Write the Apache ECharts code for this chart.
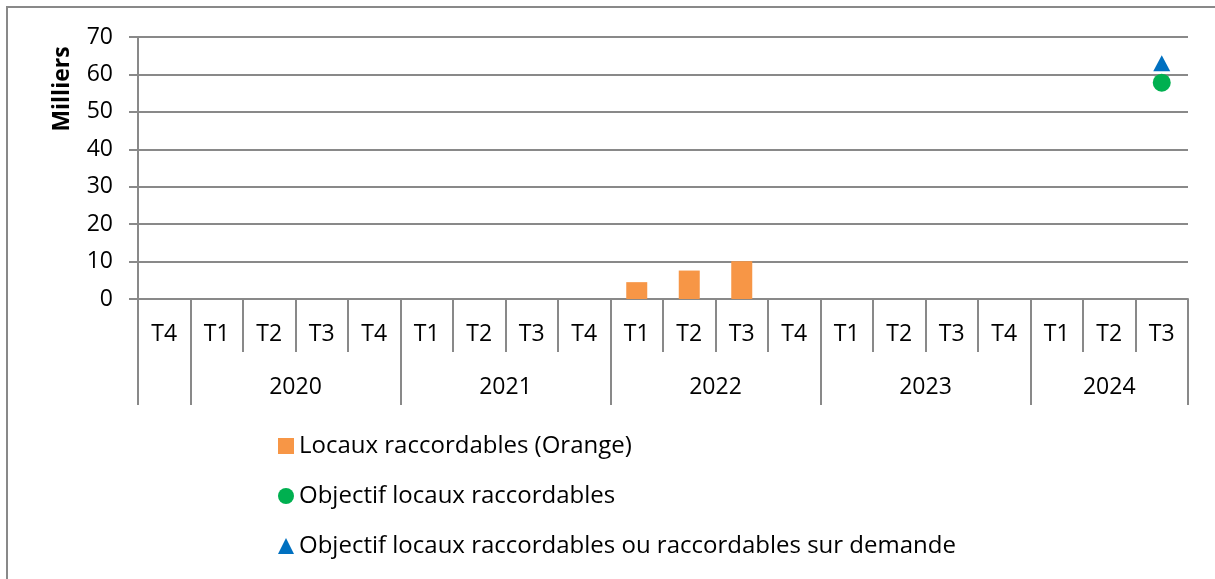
<!DOCTYPE html>
<html>
<head>
<meta charset="utf-8">
<script src="https://cdn.jsdelivr.net/npm/echarts@6/dist/echarts.min.js"></script>
<style>
html,body{margin:0;padding:0;background:#fff;}
#frame{position:absolute;left:6px;top:6px;width:1215px;height:579px;border-left:2px solid #898989;border-top:2px solid #898989;box-sizing:border-box;}
#chart{position:absolute;left:0;top:0;width:1215px;height:579px;}
</style>
</head>
<body>
<div id="frame"></div>
<div id="chart"></div>
<script>
// Data
const quarters = ['T4','T1','T2','T3','T4','T1','T2','T3','T4','T1','T2','T3','T4','T1','T2','T3','T4','T1','T2','T3'];
const years = ['', '2020', '2021', '2022', '2023', '2024'];
const yearSpans = [1, 4, 4, 4, 4, 3];   // number of quarters per year group
const locauxOrange = [null,null,null,null,null,null,null,null,null,4.5,7.6,10.1,null,null,null,null,null,null,null,null];
const objectifRaccordables = [null,null,null,null,null,null,null,null,null,null,null,null,null,null,null,null,null,null,null,57.8];
const objectifSurDemande = [null,null,null,null,null,null,null,null,null,null,null,null,null,null,null,null,null,null,null,63];
const yTicks = {min: 0, max: 70, interval: 10};

// Build year axis helpers
const yearAxisData = new Array(quarters.length).fill('');
const yearShift = new Array(quarters.length).fill(0);
const groupStarts = [];
let pos = 0;
yearSpans.forEach((span, g) => {
  groupStarts.push(pos);
  const mid = pos + Math.floor((span - 1) / 2);
  yearAxisData[mid] = years[g];
  yearShift[mid] = (span % 2 === 0) ? 1 : 0;
  pos += span;
});

const FONT = 'Open Sans';
const FS = 23;
const grey = '#898989';
const chart = echarts.init(document.getElementById('chart'));
chart.setOption({
  animation: false,
  textStyle: {fontFamily: FONT},
  grid: {left: 138, right: 27, top: 37, bottom: 280, containLabel: false},
  graphic: [{
    type: 'text', rotation: Math.PI/2, x: 62, y: 89,
    style: {text: 'Milliers', font: 'bold 23px "' + FONT + '"', fill: '#000', textAlign: 'center', textVerticalAlign: 'middle'}
  }],
  legend: {
    orient: 'vertical', left: 278, top: 434, padding: 0, itemGap: 26, itemWidth: 16, itemHeight: 16,
    textStyle: {fontSize: 24, lineHeight: 24, color: '#000', fontFamily: FONT},
    data: [
      {name: 'Locaux raccordables (Orange)', icon: 'rect'},
      {name: 'Objectif locaux raccordables', icon: 'circle'},
      {name: 'Objectif locaux raccordables ou raccordables sur demande', icon: 'triangle'}
    ]
  },
  xAxis: [{
    type: 'category', data: quarters, boundaryGap: true, position: 'bottom',
    axisLine: {show: true, lineStyle: {color: grey, width: 2}},
    axisTick: {show: true, interval: 0, length: 53, lineStyle: {color: grey, width: 2}},
    axisLabel: {interval: 0, margin: 24, fontSize: FS, color: '#000', fontFamily: FONT},
    splitLine: {show: false}
  }, {
    type: 'category', data: yearAxisData, boundaryGap: true, position: 'bottom',
    axisLine: {show: false},
    axisTick: {show: true, length: 106, lineStyle: {color: grey, width: 2},
      interval: function (idx) { return groupStarts.indexOf(idx) >= 0; }},
    axisLabel: {interval: 0, margin: 77, fontSize: FS, color: '#000', fontFamily: FONT,
      formatter: function (v, idx) { return v ? (yearShift[idx] ? '{s|' + v + '}' : v) : ''; },
      rich: {s: {padding: [0,0,0,52.5], fontSize: FS, color: '#000', fontFamily: FONT}}},
    splitLine: {show: false}
  }],
  yAxis: {
    type: 'value', min: yTicks.min, max: yTicks.max, interval: yTicks.interval,
    axisLine: {show: true, lineStyle: {color: grey, width: 2}},
    axisTick: {show: true, length: 9, lineStyle: {color: grey, width: 2}},
    axisLabel: {margin: 25, fontSize: FS, color: '#000', fontFamily: FONT},
    splitLine: {show: true, lineStyle: {color: grey, width: 2}}
  },
  series: [{
    name: 'Locaux raccordables (Orange)', type: 'bar', data: locauxOrange,
    barWidth: 21, itemStyle: {color: '#F79646', opacity: 1}, xAxisIndex: 0
  }, {
    name: 'Objectif locaux raccordables ou raccordables sur demande', type: 'scatter', data: objectifSurDemande,
    symbol: 'triangle', symbolSize: [17, 16], itemStyle: {color: '#0070C0', opacity: 1}, xAxisIndex: 0, z: 3
  }, {
    name: 'Objectif locaux raccordables', type: 'scatter', data: objectifRaccordables,
    symbol: 'circle', symbolSize: 18, itemStyle: {color: '#00B050', opacity: 1}, xAxisIndex: 0, z: 4
  }]
});
</script>
</body>
</html>
